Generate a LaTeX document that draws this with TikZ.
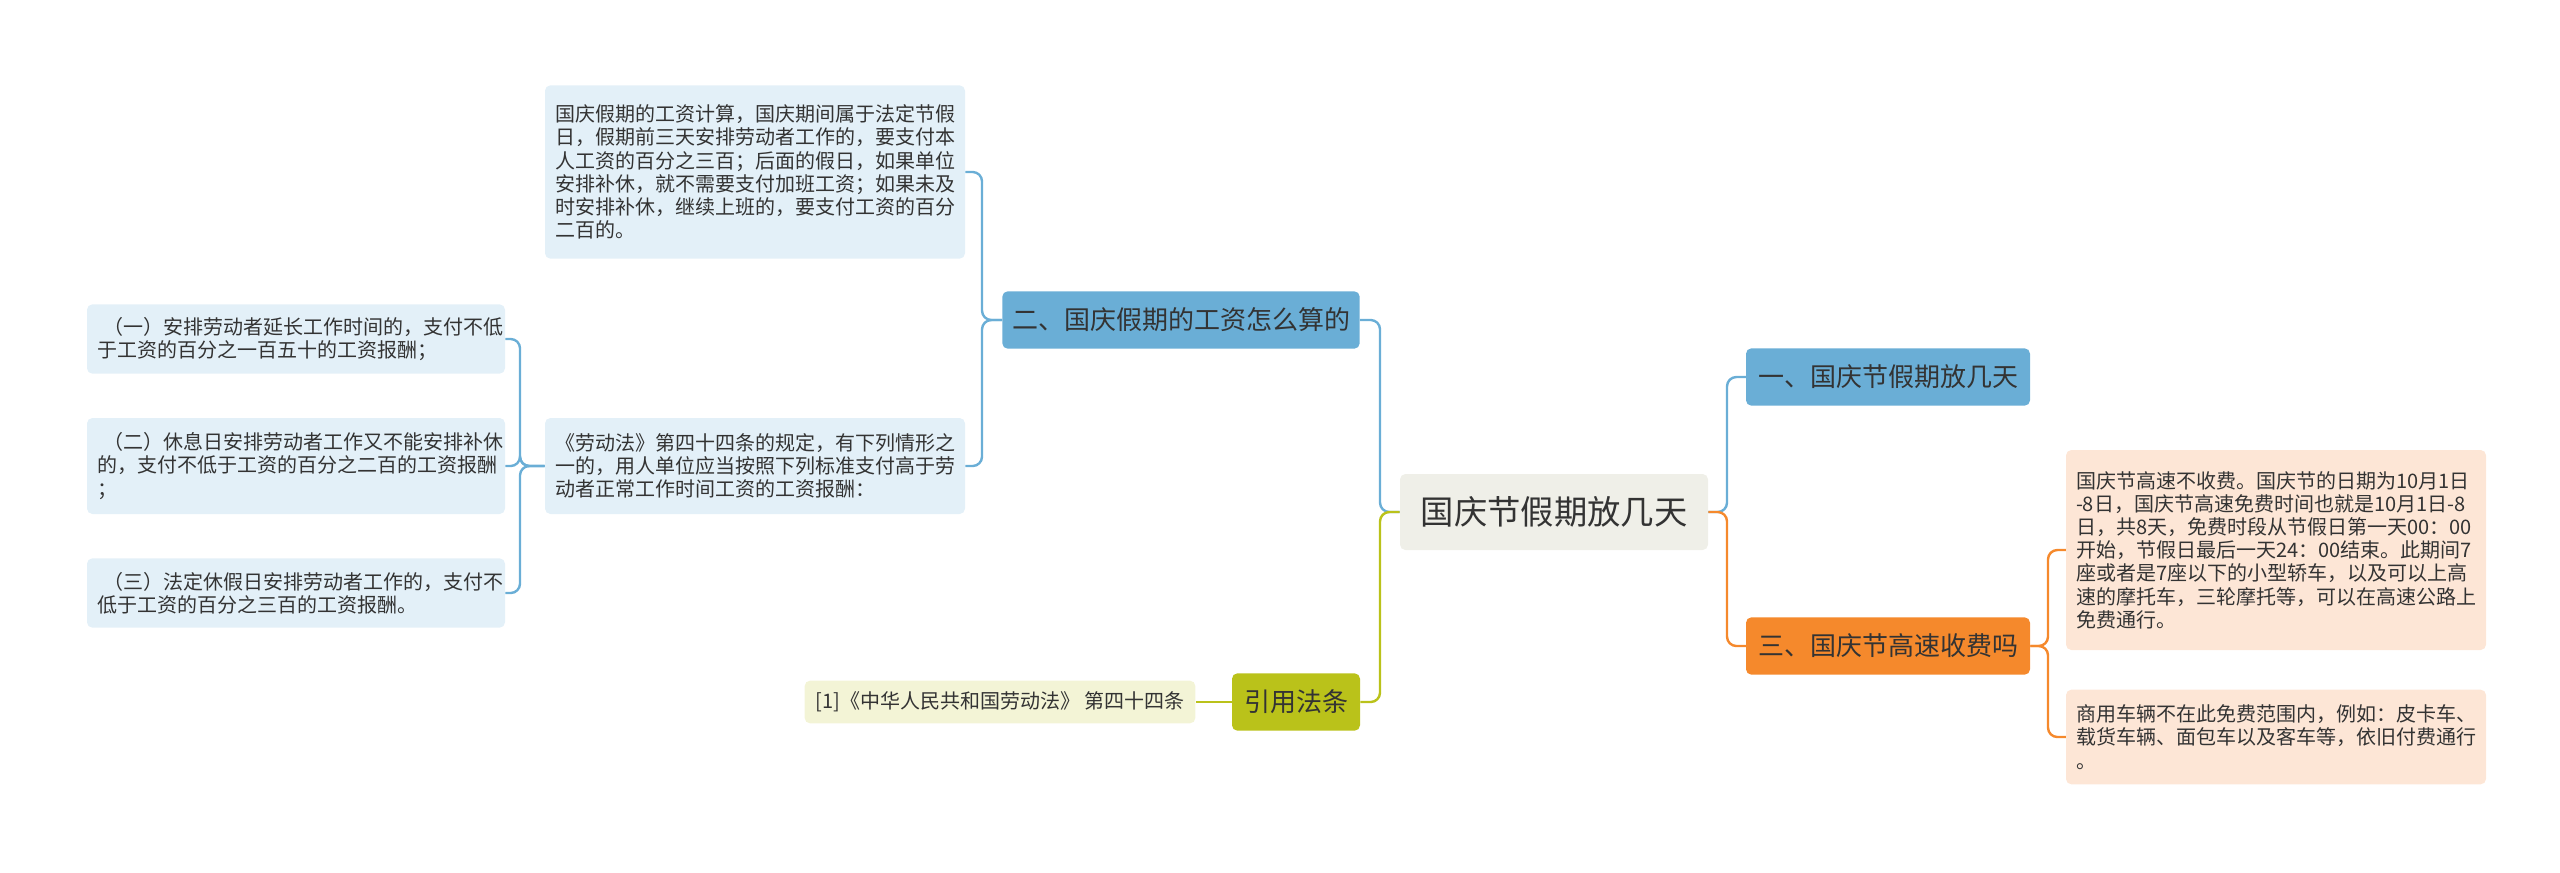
\documentclass[tikz,border=0pt]{standalone}
\usepackage{fontspec}
\setmainfont{Noto Sans CJK SC}
\usepackage{tikz}
\usetikzlibrary{calc}

\definecolor{txt}{HTML}{333333}
\definecolor{rootfill}{HTML}{EFEFE8}
\definecolor{bluemain}{HTML}{6AAED6}
\definecolor{bluelite}{HTML}{E3F0F8}
\definecolor{orgmain}{HTML}{F5892C}
\definecolor{orglite}{HTML}{FDE6D6}
\definecolor{grnmain}{HTML}{BAC21A}
\definecolor{grnlite}{HTML}{F3F4D6}

\tikzset{
  box/.style={rounded corners=4pt, text=txt, inner sep=0pt, align=center},
  rootbox/.style={box, fill=rootfill, minimum width=231pt, minimum height=57pt, font=\fontsize{25}{30}\selectfont},
  topic/.style={box, minimum height=43pt, font=\fontsize{19.5}{23}\selectfont},
  leaf/.style={box, align=left, text width=300pt, inner xsep=7.5pt, font=\fontsize{15}{17.4}\selectfont},
  link/.style={line width=1.8pt, rounded corners=7pt},
}

\begin{document}
\begin{tikzpicture}[x=0.75pt, y=-0.75pt]
	\useasboundingbox (0,0) rectangle (2560,872);

	% Mitte
	\node[rootbox] (root) at (1554,512) {国庆节假期放几天};

	% Rechts
	\node[topic, fill=bluemain, minimum width=213pt] (b1) at (1888,377) {一、国庆节假期放几天};
	\node[topic, fill=orgmain, minimum width=213pt] (b3) at (1888,646) {三、国庆节高速收费吗};
	\node[leaf, fill=orglite, minimum height=150pt] (o1) at (2276,550) {国庆节高速不收费。国庆节的日期为10月1日\\-8日，国庆节高速免费时间也就是10月1日-8\\日，共8天，免费时段从节假日第一天00：00\\开始，节假日最后一天24：00结束。此期间7\\座或者是7座以下的小型轿车，以及可以上高\\速的摩托车，三轮摩托等，可以在高速公路上\\免费通行。};
	\node[leaf, fill=orglite, minimum height=71pt] (o2) at (2276,737) {商用车辆不在此免费范围内，例如：皮卡车、\\载货车辆、面包车以及客车等，依旧付费通行\\。};

	% Links
	\node[topic, fill=bluemain, minimum width=268pt] (b2) at (1181,320) {二、国庆假期的工资怎么算的};
	\node[topic, fill=grnmain, minimum width=96pt] (cite) at (1296,702) {引用法条};
	\node[box, fill=grnlite, minimum width=293pt, minimum height=32pt, font=\fontsize{15}{18}\selectfont] (ref) at (1000,702) {[1]《中华人民共和国劳动法》 第四十四条};
	\node[leaf, fill=bluelite, minimum height=130pt] (t1) at (755,172) {国庆假期的工资计算，国庆期间属于法定节假\\日，假期前三天安排劳动者工作的，要支付本\\人工资的百分之三百；后面的假日，如果单位\\安排补休，就不需要支付加班工资；如果未及\\时安排补休，继续上班的，要支付工资的百分\\二百的。};
	\node[leaf, fill=bluelite, minimum height=72pt] (t2) at (755,466) {《劳动法》第四十四条的规定，有下列情形之\\一的，用人单位应当按照下列标准支付高于劳\\动者正常工作时间工资的工资报酬：};
	\node[leaf, fill=bluelite, text width=298.5pt, minimum height=52pt] (l1) at (296,339) {\ （一）安排劳动者延长工作时间的，支付不低\\于工资的百分之一百五十的工资报酬；};
	\node[leaf, fill=bluelite, text width=298.5pt, minimum height=72pt] (l2) at (296,466) {\ （二）休息日安排劳动者工作又不能安排补休\\的，支付不低于工资的百分之二百的工资报酬\\；};
	\node[leaf, fill=bluelite, text width=298.5pt, minimum height=52pt] (l3) at (296,593) {\ （三）法定休假日安排劳动者工作的，支付不\\低于工资的百分之三百的工资报酬。};

	%% Verbindungen
	\draw[link, bluemain] (root.west) -- (1380,512) |- (b2.east);
	\draw[link, grnmain] (root.west) -- (1380,512) |- (cite.east);
	\draw[link, grnmain] (cite.west) -- (ref.east);
	\draw[link, bluemain] (root.east) -- (1727,512) |- (b1.west);
	\draw[link, orgmain] (root.east) -- (1727,512) |- (b3.west);
	\draw[link, orgmain] (b3.east) -- (2048,646) |- (o1.west);
	\draw[link, orgmain] (b3.east) -- (2048,646) |- (o2.west);
	\draw[link, bluemain] (b2.west) -- (982,320) |- (t1.east);
	\draw[link, bluemain] (b2.west) -- (982,320) |- (t2.east);
	\draw[link, bluemain] (t2.west) -- (520,466) |- (l1.east);
	\draw[link, bluemain] (t2.west) -- (520,466) |- (l2.east);
	\draw[link, bluemain] (t2.west) -- (520,466) |- (l3.east);
\end{tikzpicture}
\end{document}
